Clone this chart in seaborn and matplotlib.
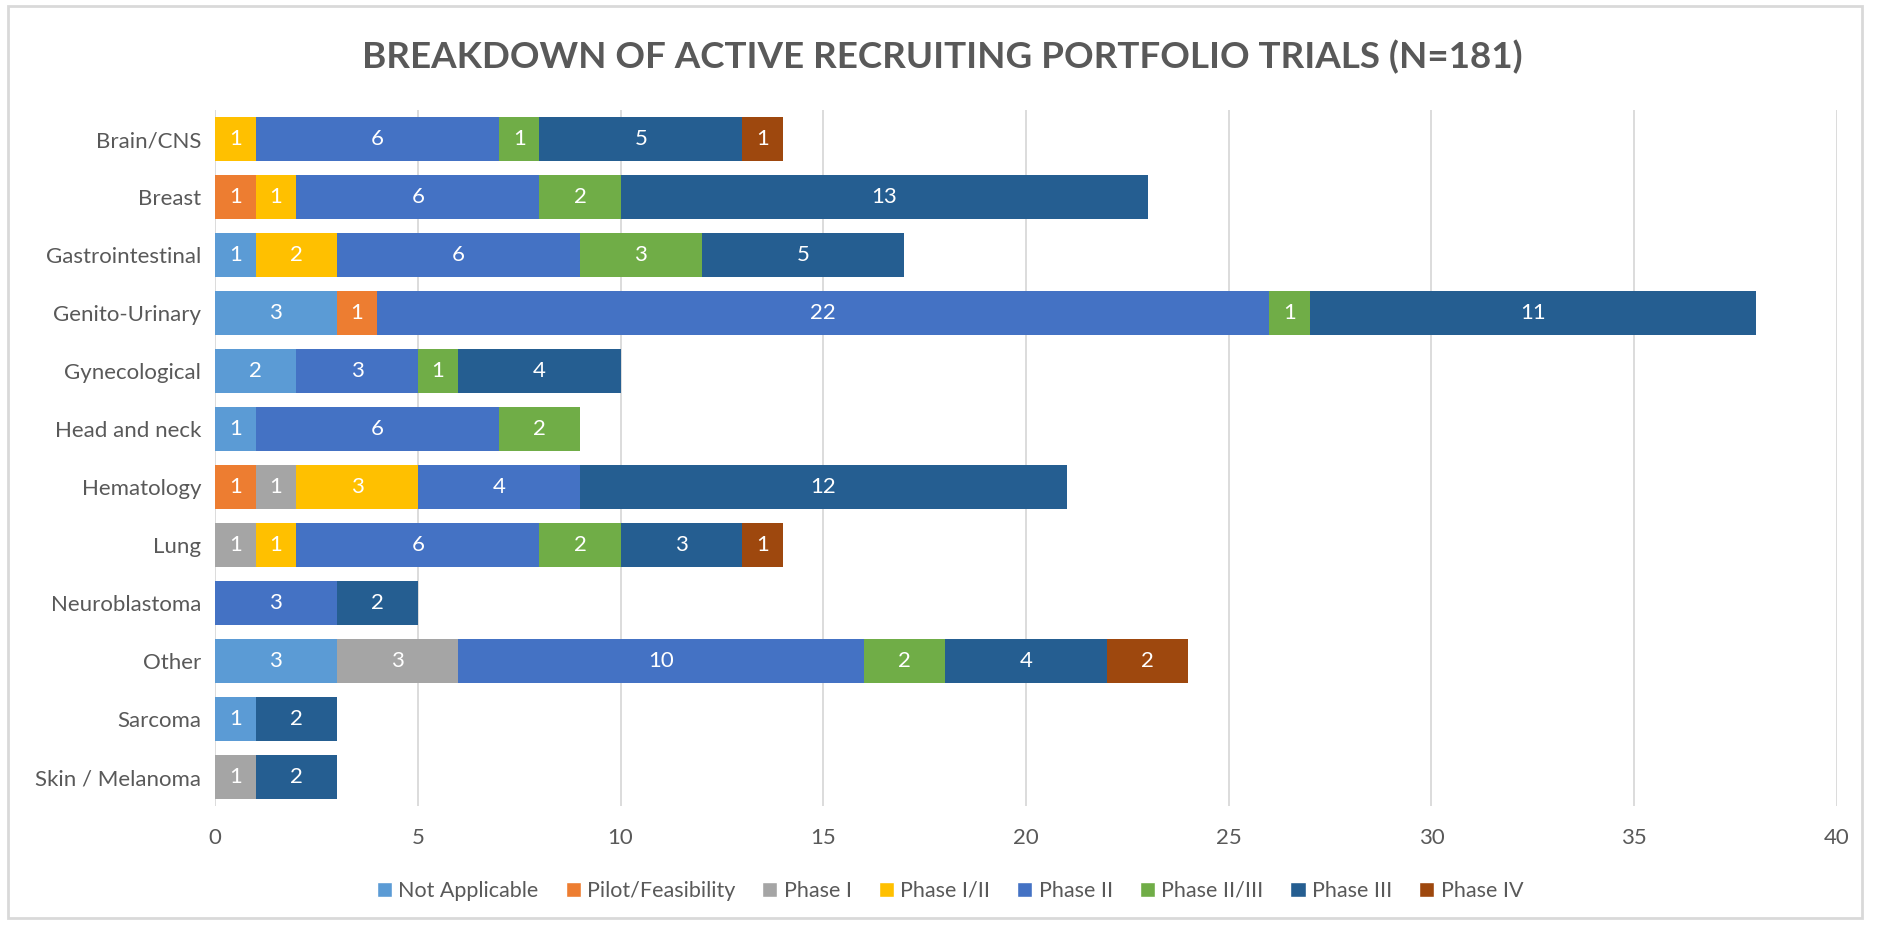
import numpy as np
import pandas as pd
import seaborn as sns
import matplotlib.pyplot as plt
from matplotlib.patches import Patch, Rectangle

# data
categories = ['Brain/CNS', 'Breast', 'Gastrointestinal', 'Genito-Urinary', 'Gynecological',
              'Head and neck', 'Hematology', 'Lung', 'Neuroblastoma', 'Other', 'Sarcoma',
              'Skin / Melanoma']
phases = ['Not Applicable', 'Pilot/Feasibility', 'Phase I', 'Phase I/II', 'Phase II',
          'Phase II/III', 'Phase III', 'Phase IV']
not_applicable = [0, 0, 1, 3, 2, 1, 0, 0, 0, 3, 1, 0]
pilot_feasibility = [0, 1, 0, 1, 0, 0, 1, 0, 0, 0, 0, 0]
phase_1 = [0, 0, 0, 0, 0, 0, 1, 1, 0, 3, 0, 1]
phase_1_2 = [1, 1, 2, 0, 0, 0, 3, 1, 0, 0, 0, 0]
phase_2 = [6, 6, 6, 22, 3, 6, 4, 6, 3, 10, 0, 0]
phase_2_3 = [1, 2, 3, 1, 1, 2, 0, 2, 0, 2, 0, 0]
phase_3 = [5, 13, 5, 11, 4, 0, 12, 3, 2, 4, 2, 2]
phase_4 = [1, 0, 0, 0, 0, 0, 0, 1, 0, 2, 0, 0]
colors = ['#5B9BD5', '#ED7D31', '#A5A5A5', '#FFC000', '#4472C4', '#70AD47', '#255E91', '#9E480E']

df = pd.DataFrame(dict(zip(phases, [not_applicable, pilot_feasibility, phase_1, phase_1_2,
                                    phase_2, phase_2_3, phase_3, phase_4])), index=categories)
cum = df.cumsum(axis=1)

sns.set_style('white')
plt.rcParams['font.family'] = ['Lato', 'DejaVu Sans']
txt = '#595959'

fig = plt.figure(figsize=(18.85, 9.25), dpi=100)
ax = fig.add_axes([0.1141, 0.1286, 0.8604, 0.7524])

# stacked bars: draw cumulative totals from the last series backwards
for ph, col in reversed(list(zip(phases, colors))):
    sns.barplot(x=cum[ph].values, y=categories, color=col, width=0.76, saturation=1,
                orient='h', linewidth=0, ax=ax)

# value labels in the middle of each segment
for i, cat in enumerate(categories):
    for ph in phases:
        v = df.loc[cat, ph]
        if v > 0:
            ax.text(cum.loc[cat, ph] - v / 2, i, str(v), color='white',
                    ha='center', va='center', fontsize=16)

ax.set_xlim(0, 40)
ax.set_xticks(range(0, 41, 5))
ax.xaxis.grid(True, color='#D9D9D9', linewidth=1.3)
ax.set_axisbelow(True)
for s in ax.spines.values():
    s.set_visible(False)
ax.tick_params(axis='both', length=0, labelsize=16, colors=txt)
ax.tick_params(axis='x', pad=16)
ax.tick_params(axis='y', pad=10)
ax.set_xlabel('')
ax.set_ylabel('')

fig.suptitle('BREAKDOWN OF ACTIVE RECRUITING PORTFOLIO TRIALS (N=181)', y=0.957,
             fontsize=26.5, fontweight='bold', color=txt)

handles = [Patch(facecolor=c, label=p) for p, c in zip(phases, colors)]
fig.legend(handles=handles, loc='center', bbox_to_anchor=(0.504, 0.037), ncol=8,
           frameon=False, fontsize=15.5, labelcolor=txt, handlelength=0.7,
           handleheight=0.7, handletextpad=0.3, columnspacing=1.25)

fig.patches.append(Rectangle((0.0045, 0.008), 0.9835, 0.986, transform=fig.transFigure,
                             fill=False, edgecolor='#D9D9D9', linewidth=2))

fig.savefig('out.png', dpi=100)
